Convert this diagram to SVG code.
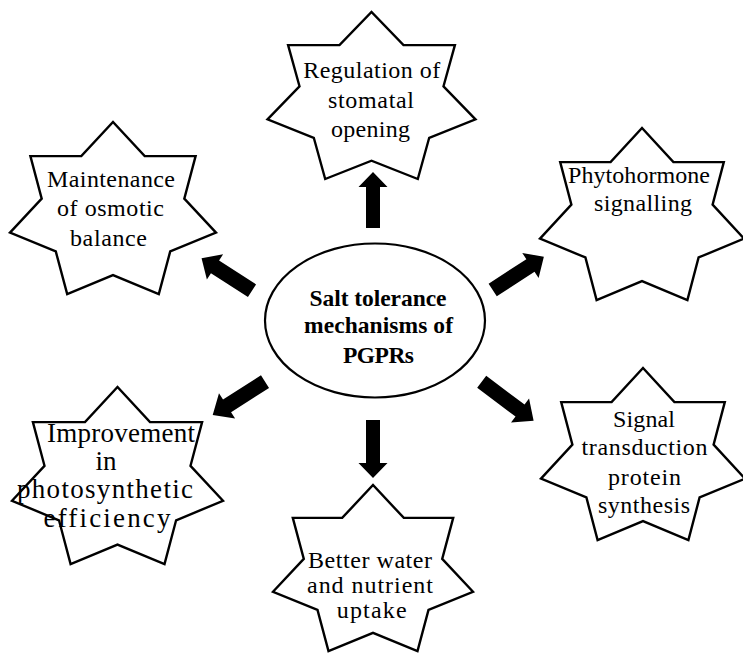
<svg xmlns="http://www.w3.org/2000/svg" width="743" height="653" viewBox="0 0 743 653">
  <style>
    .star { fill: #ffffff; stroke: #000000; stroke-width: 2.4; stroke-linejoin: miter; }
    .hub { fill: #ffffff; stroke: #000000; stroke-width: 2.2; }
    .arrow { fill: #000000; stroke: none; }
    .lbl { font-family: "Liberation Serif", "Times New Roman", serif; font-size: 24px; fill: #000000; text-anchor: middle; }
    .big { font-size: 27px; }
    .hubtxt { font-family: "Liberation Serif", "Times New Roman", serif; font-size: 23.5px; font-weight: bold; fill: #000000; text-anchor: middle; }
  </style>
  <rect x="0" y="0" width="743" height="653" fill="#ffffff"/>

  <!-- connectors: block arrows radiating from the central ellipse -->
  <g id="connectors">
    <polygon class="arrow" transform="translate(373,228) rotate(-90)" points="0,-7 41,-7 41,-14.5 56,0 41,14.5 41,7 0,7"/>
    <polygon class="arrow" transform="translate(373,420) rotate(90)" points="0,-7 43,-7 43,-14.5 58,0 43,14.5 43,7 0,7"/>
    <polygon class="arrow" transform="translate(252,290.7) rotate(212.8)" points="0,-7.5 44,-7.5 44,-15 60,0 44,15 44,7.5 0,7.5"/>
    <polygon class="arrow" transform="translate(492.7,290) rotate(-33)" points="0,-7.5 45,-7.5 45,-15 61,0 45,15 45,7.5 0,7.5"/>
    <polygon class="arrow" transform="translate(265,381.7) rotate(147.5)" points="0,-7.5 45,-7.5 45,-15 62,0 45,15 45,7.5 0,7.5"/>
    <polygon class="arrow" transform="translate(481.7,381.7) rotate(37)" points="0,-7.5 48,-7.5 48,-15 65,0 48,15 48,7.5 0,7.5"/>
  </g>

  <!-- central node -->
  <g id="hub">
    <ellipse class="hub" cx="375" cy="320.5" rx="110" ry="77"/>
    <text class="hubtxt" x="378" y="305.7" textLength="137" lengthAdjust="spacing">Salt tolerance</text>
    <text class="hubtxt" x="378.5" y="333" textLength="149" lengthAdjust="spacing">mechanisms of</text>
    <text class="hubtxt" x="378.5" y="362.7" textLength="71" lengthAdjust="spacing">PGPRs</text>
  </g>

  <g id="stomatal">
    <polygon class="star" points="267.5,119.4 299.5,86.3 288.1,45.1 339.5,45.1 371.5,12 403.5,45.1 454.9,45.1 443.5,86.3 475.5,119.4 429.2,137.8 417.8,179 371.5,160.7 325.2,179 313.8,137.8"/>
    <text class="lbl" x="371.7" y="78.3" textLength="137" lengthAdjust="spacing">Regulation of</text>
    <text class="lbl" x="371" y="108.3" textLength="86" lengthAdjust="spacing">stomatal</text>
    <text class="lbl" x="370.5" y="136.7" textLength="79" lengthAdjust="spacing">opening</text>
  </g>

  <g id="osmotic">
    <polygon class="star" points="10,232.6 41.7,198.6 30.4,156.1 81.3,156.1 113,122 144.7,156.1 195.6,156.1 184.3,198.6 216,232.6 170.2,251.5 158.8,294 113,275.1 67.2,294 55.8,251.5"/>
    <text class="lbl" x="111" y="187.3" textLength="128" lengthAdjust="spacing">Maintenance</text>
    <text class="lbl" x="110.5" y="216" textLength="107" lengthAdjust="spacing">of osmotic</text>
    <text class="lbl" x="108.5" y="246" textLength="77" lengthAdjust="spacing">balance</text>
  </g>

  <g id="phytohormone">
    <polygon class="star" points="540,238.6 571.4,204.6 560.2,162.1 610.6,162.1 642,128 673.4,162.1 723.8,162.1 712.6,204.6 744,238.6 698.6,257.5 687.4,300 642,281.1 596.6,300 585.4,257.5"/>
    <text class="lbl" x="639" y="183.3" textLength="142" lengthAdjust="spacing">Phytohormone</text>
    <text class="lbl" x="643" y="211" textLength="98" lengthAdjust="spacing">signalling</text>
  </g>

  <g id="photosynthesis">
    <polygon class="star" points="12,500.8 44.5,465.8 32.9,422.1 85,422.1 117.5,387 150,422.1 202.1,422.1 190.5,465.8 223,500.8 176.1,520.3 164.5,564 117.5,544.6 70.6,564 59,520.3"/>
    <text class="lbl big" x="121" y="441.7" textLength="148" lengthAdjust="spacing">Improvement</text>
    <text class="lbl big" x="106" y="470">in</text>
    <text class="lbl big" x="105" y="498.3" textLength="176" lengthAdjust="spacing">photosynthetic</text>
    <text class="lbl big" x="107" y="526.7" textLength="127" lengthAdjust="spacing">efficiency</text>
  </g>

  <g id="signal">
    <polygon class="star" points="541,478.6 572.4,444.6 561.2,402.1 611.6,402.1 643,368 674.4,402.1 724.8,402.1 713.6,444.6 745,478.6 699.6,497.5 688.4,540 643,521.1 597.6,540 586.4,497.5"/>
    <text class="lbl" x="644" y="426.7" textLength="62" lengthAdjust="spacing">Signal</text>
    <text class="lbl" x="644.5" y="455" textLength="126" lengthAdjust="spacing">transduction</text>
    <text class="lbl" x="644.5" y="485" textLength="73" lengthAdjust="spacing">protein</text>
    <text class="lbl" x="644" y="513.3" textLength="92" lengthAdjust="spacing">synthesis</text>
  </g>

  <g id="uptake">
    <polygon class="star" points="273,591.8 303.8,558.9 292.8,517.9 342.2,517.9 373,485 403.8,517.9 453.2,517.9 442.2,558.9 473,591.8 428.5,610 417.5,651 373,632.8 328.5,651 317.5,610"/>
    <text class="lbl" x="370" y="568" textLength="124" lengthAdjust="spacing">Better water</text>
    <text class="lbl" x="370" y="593" textLength="126" lengthAdjust="spacing">and nutrient</text>
    <text class="lbl" x="371.7" y="618" textLength="70" lengthAdjust="spacing">uptake</text>
  </g>
</svg>
